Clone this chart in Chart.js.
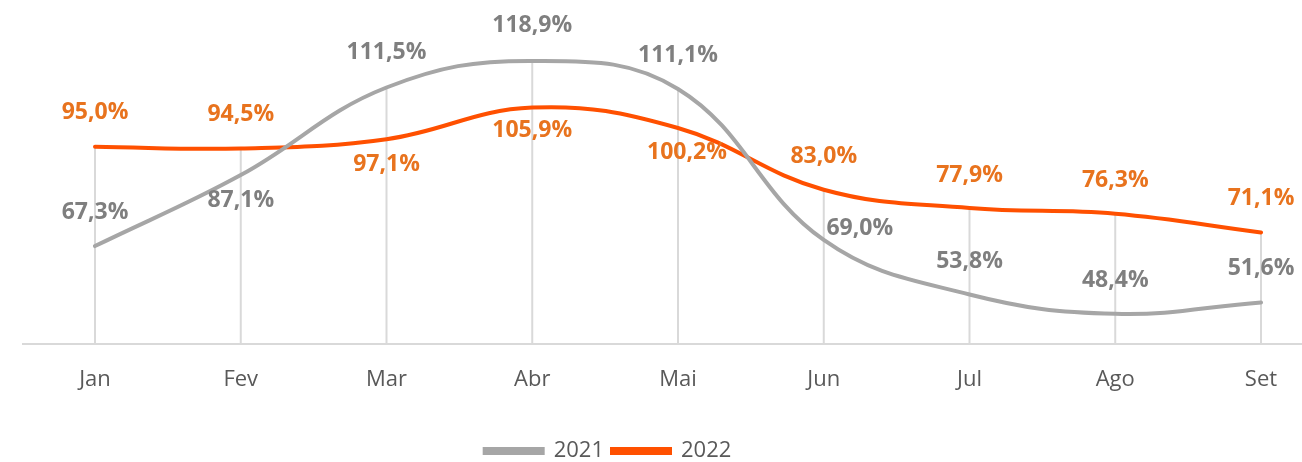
<!DOCTYPE html>
<html><head><meta charset="utf-8">
<script src="https://cdn.jsdelivr.net/npm/chart.js@4/dist/chart.umd.min.js"></script>
<style>html,body{margin:0;padding:0;background:#fff}#wrap{width:1302px;height:462px}</style>
</head><body><div id="wrap"><canvas id="c"></canvas></div>
<script>
const categories = ['Jan','Fev','Mar','Abr','Mai','Jun','Jul','Ago','Set'];
const values2021 = [67.3, 87.1, 111.5, 118.9, 111.1, 69.0, 53.8, 48.4, 51.6];
const values2022 = [95.0, 94.5, 97.1, 105.9, 100.2, 83.0, 77.9, 76.3, 71.1];
const seriesNames = ['2021', '2022'];

// label placement (style only)
const labelOffsets2021 = [[0,-34],[0,25],[0,-35],[0,-35],[0,-33],[36,-12],[0,-33],[0,-33],[0,-34]];
const labelOffsets2022 = [[0,-34],[0,-34],[0,25],[0,23],[9,24],[0,-33],[0,-33],[0,-33],[0,-34]];

const FONT = "'Open Sans', 'Segoe UI', sans-serif";

const helpers = {
  id: 'helpers',
  afterLayout(chart) {
    const lg = chart.legend;
    if (!lg) return;
    const w = lg.right - lg.left, h = lg.bottom - lg.top;
    lg.left = 608 - w / 2; lg.right = lg.left + w;
    lg.top = 432; lg.bottom = 432 + h;
  },
  beforeDatasetsDraw(chart) {
    const {ctx, scales: {x, y}} = chart;
    const base = y.getPixelForValue(y.min);
    ctx.save();
    ctx.strokeStyle = '#D9D9D9';
    ctx.lineWidth = 2;
    ctx.beginPath();
    ctx.moveTo(22, base); ctx.lineTo(chart.width, base);
    categories.forEach((c, i) => {
      const top = Math.max(values2021[i], values2022[i]);
      const px = x.getPixelForValue(i);
      ctx.moveTo(px, y.getPixelForValue(top)); ctx.lineTo(px, base);
    });
    ctx.stroke();
    ctx.restore();
  },
  afterDatasetsDraw(chart) {
    const {ctx} = chart;
    ctx.save();
    ctx.font = "bold 23px " + FONT;
    ctx.textAlign = 'center';
    ctx.textBaseline = 'middle';
    chart.data.datasets.forEach((ds, di) => {
      const meta = chart.getDatasetMeta(di);
      const offs = di === 0 ? labelOffsets2021 : labelOffsets2022;
      ctx.fillStyle = ds.labelColor;
      meta.data.forEach((pt, i) => {
        const txt = ds.data[i].toFixed(1).replace('.', ',') + '%';
        ctx.fillText(txt, pt.x + offs[i][0], pt.y + offs[i][1]);
      });
    });
    ctx.restore();
  }
};

new Chart(document.getElementById('c'), {
  type: 'line',
  data: {
    labels: categories,
    datasets: [
      {label: seriesNames[0], data: values2021, borderColor: '#A6A6A6', backgroundColor: '#A6A6A6', labelColor: '#7F7F7F', borderWidth: 4, pointRadius: 0, tension: 0.4, borderCapStyle: 'round'},
      {label: seriesNames[1], data: values2022, borderColor: '#FF5000', backgroundColor: '#FF5000', labelColor: '#E8731E', borderWidth: 4, pointRadius: 0, tension: 0.4, borderCapStyle: 'round'}
    ]
  },
  options: {
    responsive: true,
    maintainAspectRatio: false,
    animation: false,
    layout: {padding: {left: 95, right: 41, top: 57, bottom: 0}},
    scales: {
      x: {
        offset: false,
        grid: {display: false},
        border: {display: false},
        ticks: {color: '#595959', font: {family: FONT, size: 22}, padding: 15},
        afterFit(scale) {
          const lg = scale.chart.legend;
          const lh = lg && lg.height ? lg.height : 40;
          scale.height = 118 - lh;
        }
      },
      y: {display: false, min: 40, max: 120}
    },
    plugins: {
      legend: {
        position: 'bottom',
        labels: {color: '#595959', font: {family: FONT, size: 22}, boxWidth: 58, boxHeight: 4, padding: 8}
      },
      tooltip: {enabled: false}
    }
  },
  plugins: [helpers]
});
</script></body></html>
